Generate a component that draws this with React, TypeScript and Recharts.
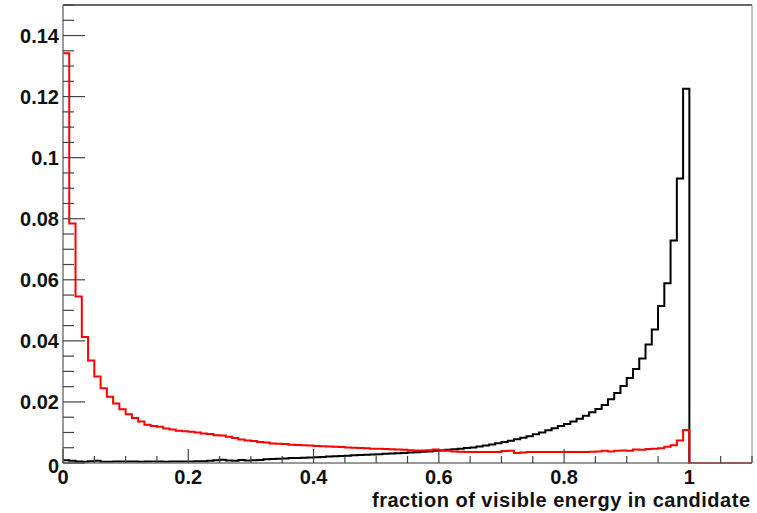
import { LineChart, Line, XAxis, YAxis, ReferenceLine } from 'recharts';

// bin width 0.01, histogram range 0 .. 1.1
const BIN_WIDTH = 0.01;

// black: 100 bins from 0 to 1
const blackCounts = [
  0.0009, 0.0007, 0.0005, 0.0004, 0.0006, 0.0007, 0.0004, 0.0004, 0.0005, 0.0005,
  0.0005, 0.0005, 0.0004, 0.0005, 0.0005, 0.0005, 0.0004, 0.0005, 0.0005, 0.0005,
  0.0005, 0.0006, 0.0006, 0.0007, 0.0009, 0.0011, 0.0008, 0.0007, 0.001, 0.0008,
  0.0009, 0.001, 0.0012, 0.0013, 0.0014, 0.0015, 0.0016, 0.0016, 0.0017, 0.0018,
  0.0019, 0.002, 0.0021, 0.0022, 0.0023, 0.0024, 0.0025, 0.0026, 0.0027, 0.0028,
  0.0029, 0.003, 0.0031, 0.0032, 0.0033, 0.0034, 0.0035, 0.0037, 0.0038, 0.004,
  0.0041, 0.0043, 0.0045, 0.0047, 0.0049, 0.0051, 0.0054, 0.0057, 0.0061, 0.0065,
  0.0069, 0.0073, 0.0078, 0.0083, 0.0088, 0.0094, 0.01, 0.0107, 0.0114, 0.0121,
  0.0128, 0.0136, 0.0145, 0.0155, 0.0166, 0.0177, 0.019, 0.0209, 0.0229, 0.0252,
  0.0278, 0.0308, 0.0342, 0.0388, 0.0437, 0.0514, 0.0589, 0.0729, 0.0932, 0.1226,
];

// red: 100 bins from 0 to 1
const redCounts = [
  0.1342, 0.0784, 0.0545, 0.0413, 0.0336, 0.0283, 0.0245, 0.0217, 0.0195, 0.0176,
  0.016, 0.0147, 0.0136, 0.0125, 0.0121, 0.0119, 0.0113, 0.011, 0.0106, 0.0104,
  0.0102, 0.01, 0.0097, 0.0095, 0.0091, 0.009, 0.0086, 0.0082, 0.0077, 0.0074,
  0.0072, 0.0069, 0.0067, 0.0064, 0.0063, 0.0062, 0.006, 0.0059, 0.0058, 0.0057,
  0.0056, 0.0055, 0.0054, 0.0053, 0.0052, 0.0051, 0.005, 0.0049, 0.0048, 0.0047,
  0.0047, 0.0046, 0.0045, 0.0044, 0.0043, 0.0042, 0.0041, 0.0041, 0.0042, 0.0044,
  0.0042, 0.004, 0.0038, 0.0037, 0.0036, 0.0036, 0.0036, 0.0036, 0.0036, 0.0036,
  0.0039, 0.004, 0.0033, 0.0034, 0.0036, 0.0036, 0.0036, 0.0036, 0.0036, 0.0036,
  0.0036, 0.0036, 0.0036, 0.0036, 0.0037, 0.0038, 0.004, 0.0038, 0.004, 0.0041,
  0.004, 0.0044, 0.0043, 0.0046, 0.0047, 0.0048, 0.0053, 0.0058, 0.0074, 0.0108,
];

// bins between 1 and 1.1 are empty for both
const overflowBins = [0, 0, 0, 0, 0, 0, 0, 0, 0, 0];

const xTicks = Array.from({ length: 23 }, (_, i) => Math.round(i * 5) / 100);
const yTicks = Array.from({ length: 31 }, (_, i) => Math.round(i * 5) / 1000);

const blackAll = [...blackCounts, ...overflowBins];
const redAll = [...redCounts, ...overflowBins];

// stepAfter needs a closing point at the right edge of the last bin
const data = Array.from({ length: blackAll.length + 1 }, (_, i) => {
  const k = Math.min(i, blackAll.length - 1);
  return {
    x: Math.round(i * BIN_WIDTH * 100) / 100,
    black: blackAll[k],
    red: redAll[k],
  };
});

const FONT = '"Liberation Sans", Arial, Helvetica, sans-serif';
const TICK_COLOR = '#444';

const isMultiple = (v: number, step: number) =>
  Math.abs(v / step - Math.round(v / step)) < 1e-6;

const fmt = (v: number) => String(Math.round(v * 1000) / 1000);

function YTick(props: any) {
  const { x, y, payload } = props;
  const v = payload.value;
  const major = isMultiple(v, 0.02);
  return (
    <g>
      <line x1={x} x2={x + (major ? 22 : 11)} y1={y} y2={y} stroke={TICK_COLOR} strokeWidth={1.2} />
      {major && (
        <text
          x={x - 4}
          y={v === 0 ? y + 3 : y}
          textAnchor="end"
          dominantBaseline="central"
          fontFamily={FONT}
          fontWeight="bold"
          fontSize={20}
          fill="#111"
        >
          {fmt(v)}
        </text>
      )}
    </g>
  );
}

function XTick(props: any) {
  const { x, y, payload } = props;
  const v = payload.value;
  const major = isMultiple(v, 0.2) && v <= 1.0001;
  return (
    <g>
      <line x1={x} x2={x} y1={y} y2={y - (major ? 14 : 7)} stroke={TICK_COLOR} strokeWidth={1.2} />
      {major && (
        <text
          x={x}
          y={y + 14}
          textAnchor="middle"
          dominantBaseline="central"
          fontFamily={FONT}
          fontWeight="bold"
          fontSize={20}
          fill="#111"
        >
          {fmt(v)}
        </text>
      )}
    </g>
  );
}

function XTitle(props: any) {
  const { viewBox } = props;
  return (
    <text
      x={viewBox.x + viewBox.width - 380}
      y={viewBox.y + 37}
      textLength={378}
      lengthAdjust="spacing"
      dominantBaseline="central"
      fontFamily={FONT}
      fontWeight="bold"
      fontSize={20}
      fill="#111"
    >
      fraction of visible energy in candidate
    </text>
  );
}

export default function App() {
  return (
    <div style={{ position: 'absolute', left: 0, top: 0, background: '#fff' }}>
      <LineChart width={757} height={513} data={data} margin={{ top: 5, right: 5, bottom: 0, left: 0 }}>
        <XAxis
          dataKey="x"
          type="number"
          domain={[0, 1.1]}
          ticks={xTicks}
          interval={0}
          height={50}
          tickLine={false}
          tickSize={0}
          tickMargin={0}
          tick={<XTick />}
          axisLine={{ stroke: '#777', strokeWidth: 1.5 }}
          label={{ content: <XTitle /> }}
        />
        <YAxis
          type="number"
          domain={[0, 0.15]}
          ticks={yTicks}
          interval={0}
          width={63}
          tickLine={false}
          tickSize={0}
          tickMargin={0}
          tick={<YTick />}
          axisLine={{ stroke: '#777', strokeWidth: 1.5 }}
        />
        <ReferenceLine y={0.15} stroke="#333" strokeWidth={1.5} />
        <ReferenceLine x={1.1} stroke="#888" strokeWidth={1} />
        <Line
          type="stepAfter"
          dataKey="black"
          stroke="#000"
          strokeWidth={2}
          dot={false}
          activeDot={false}
          isAnimationActive={false}
        />
        <Line
          type="stepAfter"
          dataKey="red"
          stroke="#ff0000"
          strokeWidth={2}
          dot={false}
          activeDot={false}
          isAnimationActive={false}
        />
      </LineChart>
    </div>
  );
}
